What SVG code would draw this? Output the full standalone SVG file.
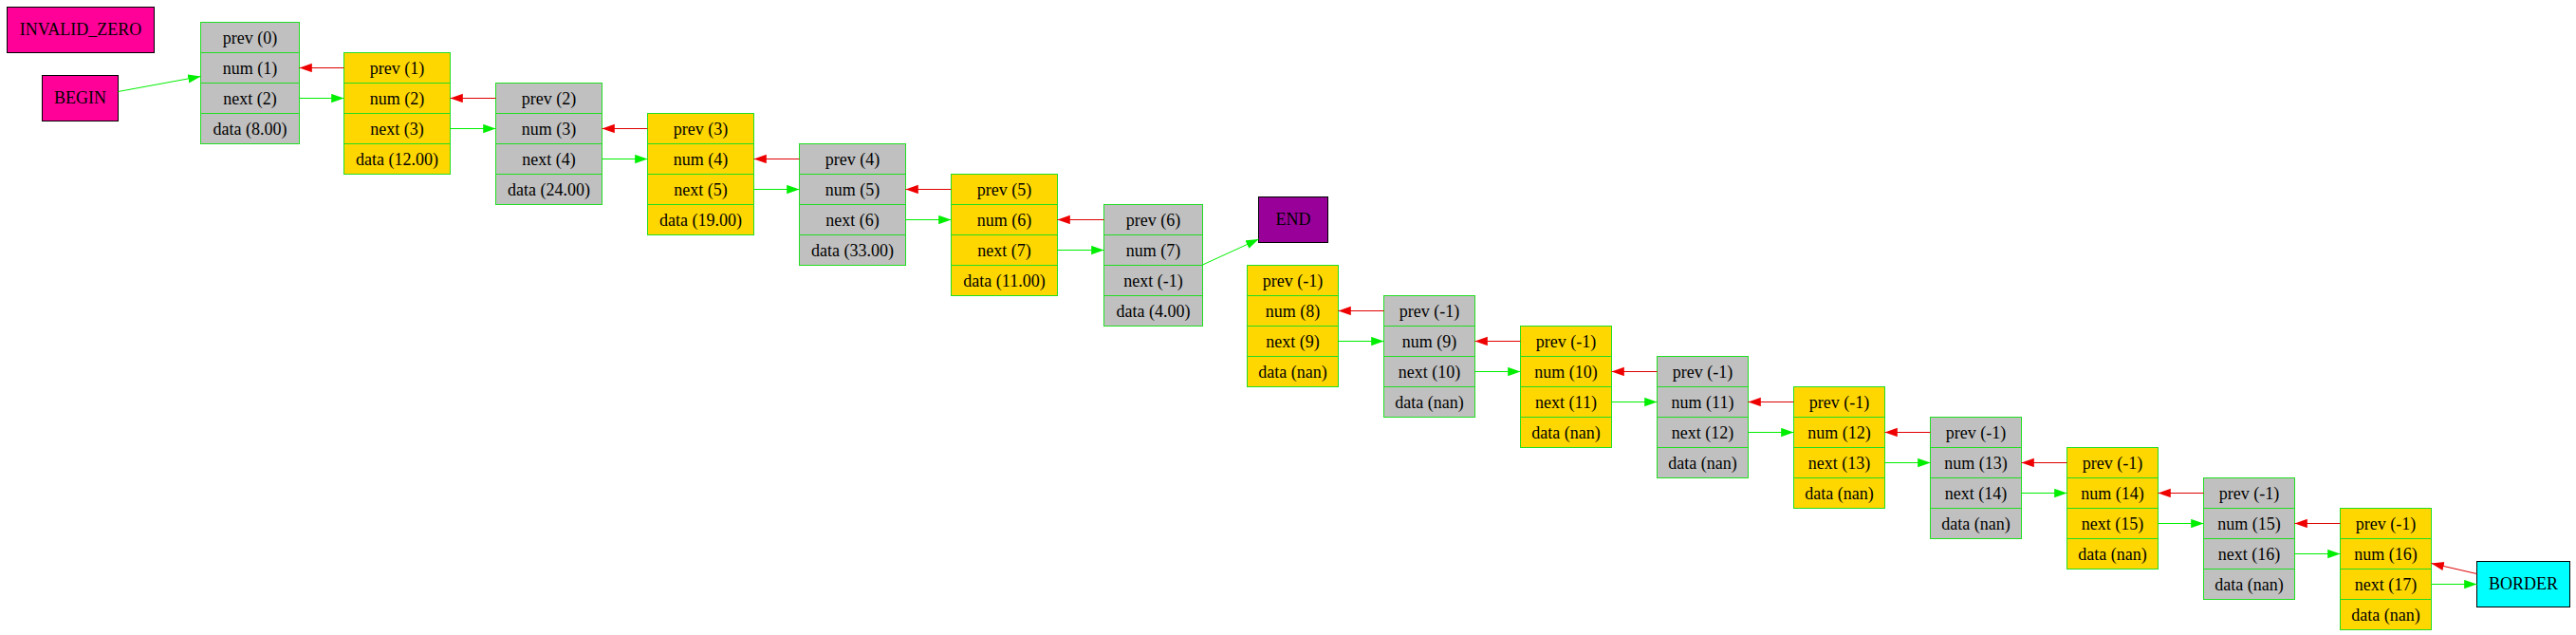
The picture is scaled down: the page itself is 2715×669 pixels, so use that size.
<svg xmlns="http://www.w3.org/2000/svg" width="2715" height="669" viewBox="0 0 2715 669">
<style>
.t{font-family:"Liberation Serif","Times New Roman",serif;font-size:18px;fill:#000;text-anchor:middle}
.rec{stroke:#22dd22;stroke-width:1}
.g{fill:#c0c0c0}
.y{fill:#ffd700}
.div{stroke:#22dd22;stroke-width:1}
.box{stroke:#000;stroke-width:1}
.en{stroke:#00ee00;stroke-width:1;fill:none;marker-end:url(#ag)}
.ep{stroke:#e00000;stroke-width:1;fill:none;marker-end:url(#ar)}
</style>
<defs>
<marker id="ag" markerUnits="userSpaceOnUse" markerWidth="14" markerHeight="10" refX="13.3" refY="4.65" orient="auto"><path d="M0,0 L13.3,4.65 L0,9.3 z" fill="#00ee00"/></marker>
<marker id="ar" markerUnits="userSpaceOnUse" markerWidth="14" markerHeight="10" refX="13.3" refY="4.65" orient="auto"><path d="M0,0 L13.3,4.65 L0,9.3 z" fill="#ee0000"/></marker>
</defs>
<rect width="2715" height="669" fill="#fff"/>

<g id="INVALID_ZERO"><rect class="box" x="7.5" y="7.5" width="155" height="48" fill="#ff0099"/><text class="t" x="85" y="37">INVALID_ZERO</text></g>
<g id="BEGIN"><rect class="box" x="44.5" y="79.5" width="80" height="48" fill="#ff0099"/><text class="t" x="84.5" y="109">BEGIN</text></g>
<g id="END"><rect class="box" x="1326.5" y="207.5" width="73" height="48" fill="#990099"/><text class="t" x="1363" y="237">END</text></g>
<g id="BORDER"><rect class="box" x="2610.5" y="591.5" width="98" height="48" fill="#00ffff"/><text class="t" x="2659.5" y="621">BORDER</text></g>

<g id="node1" transform="translate(211.5,23.5)"><rect class="rec g" width="104" height="128"/><path class="div" d="M0,32H104M0,64H104M0,96H104"/><text class="t" x="52" y="22">prev (0)</text><text class="t" x="52" y="54">num (1)</text><text class="t" x="52" y="86">next (2)</text><text class="t" x="52" y="118">data (8.00)</text></g>
<g id="node2" transform="translate(362.5,55.5)"><rect class="rec y" width="112" height="128"/><path class="div" d="M0,32H112M0,64H112M0,96H112"/><text class="t" x="56" y="22">prev (1)</text><text class="t" x="56" y="54">num (2)</text><text class="t" x="56" y="86">next (3)</text><text class="t" x="56" y="118">data (12.00)</text></g>
<g id="node3" transform="translate(522.5,87.5)"><rect class="rec g" width="112" height="128"/><path class="div" d="M0,32H112M0,64H112M0,96H112"/><text class="t" x="56" y="22">prev (2)</text><text class="t" x="56" y="54">num (3)</text><text class="t" x="56" y="86">next (4)</text><text class="t" x="56" y="118">data (24.00)</text></g>
<g id="node4" transform="translate(682.5,119.5)"><rect class="rec y" width="112" height="128"/><path class="div" d="M0,32H112M0,64H112M0,96H112"/><text class="t" x="56" y="22">prev (3)</text><text class="t" x="56" y="54">num (4)</text><text class="t" x="56" y="86">next (5)</text><text class="t" x="56" y="118">data (19.00)</text></g>
<g id="node5" transform="translate(842.5,151.5)"><rect class="rec g" width="112" height="128"/><path class="div" d="M0,32H112M0,64H112M0,96H112"/><text class="t" x="56" y="22">prev (4)</text><text class="t" x="56" y="54">num (5)</text><text class="t" x="56" y="86">next (6)</text><text class="t" x="56" y="118">data (33.00)</text></g>
<g id="node6" transform="translate(1002.5,183.5)"><rect class="rec y" width="112" height="128"/><path class="div" d="M0,32H112M0,64H112M0,96H112"/><text class="t" x="56" y="22">prev (5)</text><text class="t" x="56" y="54">num (6)</text><text class="t" x="56" y="86">next (7)</text><text class="t" x="56" y="118">data (11.00)</text></g>
<g id="node7" transform="translate(1163.5,215.5)"><rect class="rec g" width="104" height="128"/><path class="div" d="M0,32H104M0,64H104M0,96H104"/><text class="t" x="52" y="22">prev (6)</text><text class="t" x="52" y="54">num (7)</text><text class="t" x="52" y="86">next (-1)</text><text class="t" x="52" y="118">data (4.00)</text></g>
<g id="node8" transform="translate(1314.5,279.5)"><rect class="rec y" width="96" height="128"/><path class="div" d="M0,32H96M0,64H96M0,96H96"/><text class="t" x="48" y="22">prev (-1)</text><text class="t" x="48" y="54">num (8)</text><text class="t" x="48" y="86">next (9)</text><text class="t" x="48" y="118">data (nan)</text></g>
<g id="node9" transform="translate(1458.5,311.5)"><rect class="rec g" width="96" height="128"/><path class="div" d="M0,32H96M0,64H96M0,96H96"/><text class="t" x="48" y="22">prev (-1)</text><text class="t" x="48" y="54">num (9)</text><text class="t" x="48" y="86">next (10)</text><text class="t" x="48" y="118">data (nan)</text></g>
<g id="node10" transform="translate(1602.5,343.5)"><rect class="rec y" width="96" height="128"/><path class="div" d="M0,32H96M0,64H96M0,96H96"/><text class="t" x="48" y="22">prev (-1)</text><text class="t" x="48" y="54">num (10)</text><text class="t" x="48" y="86">next (11)</text><text class="t" x="48" y="118">data (nan)</text></g>
<g id="node11" transform="translate(1746.5,375.5)"><rect class="rec g" width="96" height="128"/><path class="div" d="M0,32H96M0,64H96M0,96H96"/><text class="t" x="48" y="22">prev (-1)</text><text class="t" x="48" y="54">num (11)</text><text class="t" x="48" y="86">next (12)</text><text class="t" x="48" y="118">data (nan)</text></g>
<g id="node12" transform="translate(1890.5,407.5)"><rect class="rec y" width="96" height="128"/><path class="div" d="M0,32H96M0,64H96M0,96H96"/><text class="t" x="48" y="22">prev (-1)</text><text class="t" x="48" y="54">num (12)</text><text class="t" x="48" y="86">next (13)</text><text class="t" x="48" y="118">data (nan)</text></g>
<g id="node13" transform="translate(2034.5,439.5)"><rect class="rec g" width="96" height="128"/><path class="div" d="M0,32H96M0,64H96M0,96H96"/><text class="t" x="48" y="22">prev (-1)</text><text class="t" x="48" y="54">num (13)</text><text class="t" x="48" y="86">next (14)</text><text class="t" x="48" y="118">data (nan)</text></g>
<g id="node14" transform="translate(2178.5,471.5)"><rect class="rec y" width="96" height="128"/><path class="div" d="M0,32H96M0,64H96M0,96H96"/><text class="t" x="48" y="22">prev (-1)</text><text class="t" x="48" y="54">num (14)</text><text class="t" x="48" y="86">next (15)</text><text class="t" x="48" y="118">data (nan)</text></g>
<g id="node15" transform="translate(2322.5,503.5)"><rect class="rec g" width="96" height="128"/><path class="div" d="M0,32H96M0,64H96M0,96H96"/><text class="t" x="48" y="22">prev (-1)</text><text class="t" x="48" y="54">num (15)</text><text class="t" x="48" y="86">next (16)</text><text class="t" x="48" y="118">data (nan)</text></g>
<g id="node16" transform="translate(2466.5,535.5)"><rect class="rec y" width="96" height="128"/><path class="div" d="M0,32H96M0,64H96M0,96H96"/><text class="t" x="48" y="22">prev (-1)</text><text class="t" x="48" y="54">num (16)</text><text class="t" x="48" y="86">next (17)</text><text class="t" x="48" y="118">data (nan)</text></g>

<g id="connectors">
<path class="en" d="M124.5,96.5 L211.5,80.5"/>
<path class="en" d="M1267.5,279 L1326.5,252"/>
<path class="en" d="M315.5,103.5H362.5"/>
<path class="en" d="M474.5,135.5H522.5"/>
<path class="en" d="M634.5,167.5H682.5"/>
<path class="en" d="M794.5,199.5H842.5"/>
<path class="en" d="M954.5,231.5H1002.5"/>
<path class="en" d="M1114.5,263.5H1163.5"/>
<path class="en" d="M1410.5,359.5H1458.5"/>
<path class="en" d="M1554.5,391.5H1602.5"/>
<path class="en" d="M1698.5,423.5H1746.5"/>
<path class="en" d="M1842.5,455.5H1890.5"/>
<path class="en" d="M1986.5,487.5H2034.5"/>
<path class="en" d="M2130.5,519.5H2178.5"/>
<path class="en" d="M2274.5,551.5H2322.5"/>
<path class="en" d="M2418.5,583.5H2466.5"/>
<path class="en" d="M2562.5,615.5H2610.5"/>
<path class="ep" d="M362.5,71.5H315.5"/>
<path class="ep" d="M522.5,103.5H474.5"/>
<path class="ep" d="M682.5,135.5H634.5"/>
<path class="ep" d="M842.5,167.5H794.5"/>
<path class="ep" d="M1002.5,199.5H954.5"/>
<path class="ep" d="M1163.5,231.5H1114.5"/>
<path class="ep" d="M1458.5,327.5H1410.5"/>
<path class="ep" d="M1602.5,359.5H1554.5"/>
<path class="ep" d="M1746.5,391.5H1698.5"/>
<path class="ep" d="M1890.5,423.5H1842.5"/>
<path class="ep" d="M2034.5,455.5H1986.5"/>
<path class="ep" d="M2178.5,487.5H2130.5"/>
<path class="ep" d="M2322.5,519.5H2274.5"/>
<path class="ep" d="M2466.5,551.5H2418.5"/>
<path class="ep" d="M2610.5,604.5L2562.5,593.5"/>
</g>
</svg>
